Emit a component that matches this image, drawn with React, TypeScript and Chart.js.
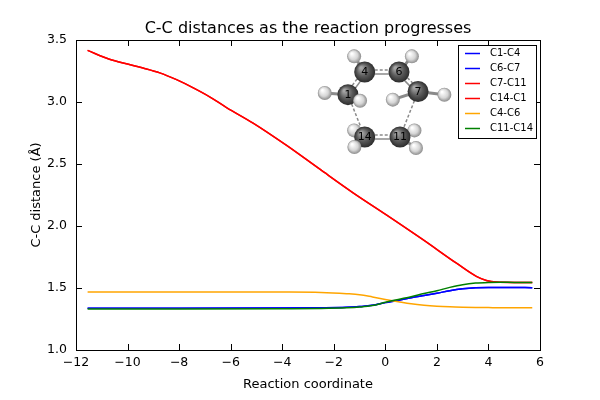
import { useEffect, useRef } from "react";
import { Chart, registerables } from "chart.js";

Chart.register(...registerables);

// C-C distances along the reaction coordinate
const longX = [-11.55, -10.7, -10.0, -9.4, -8.75, -8.1, -7.45, -6.8, -6.16, -5.13, -3.83, -2.54, -1.25, 0.04, 1.46, 2.76, 3.53, 3.92, 4.3, 5.0, 5.7];
const c7c11 = [3.416, 3.345, 3.306, 3.274, 3.235, 3.18, 3.114, 3.04, 2.955, 2.83, 2.65, 2.458, 2.268, 2.09, 1.89, 1.7, 1.594, 1.561, 1.548, 1.545, 1.545];
const c14c1 = [3.416, 3.345, 3.306, 3.274, 3.235, 3.18, 3.114, 3.04, 2.955, 2.83, 2.65, 2.458, 2.268, 2.09, 1.89, 1.7, 1.594, 1.561, 1.548, 1.545, 1.545];

const shortX = [-11.55, -8, -4, -2.5, -1.5, -1.0, -0.5, 0, 0.5, 1.0, 1.5, 2.0, 2.5, 3.0, 3.5, 4.0, 4.5, 5.0, 5.7];
const c1c4 = [1.337, 1.337, 1.338, 1.34, 1.344, 1.35, 1.36, 1.382, 1.4, 1.422, 1.44, 1.458, 1.478, 1.493, 1.502, 1.505, 1.505, 1.504, 1.503];
const c6c7 = [1.337, 1.337, 1.338, 1.34, 1.344, 1.35, 1.36, 1.382, 1.4, 1.422, 1.44, 1.458, 1.478, 1.493, 1.502, 1.505, 1.505, 1.504, 1.503];
const c4c6 = [1.468, 1.468, 1.467, 1.464, 1.454, 1.446, 1.428, 1.408, 1.39, 1.373, 1.361, 1.353, 1.348, 1.345, 1.343, 1.342, 1.341, 1.341, 1.34];
const c11c14 = [1.331, 1.331, 1.333, 1.335, 1.34, 1.346, 1.358, 1.385, 1.408, 1.43, 1.455, 1.478, 1.505, 1.527, 1.54, 1.545, 1.546, 1.545, 1.545];

const xTicks = [-12, -10, -8, -6, -4, -2, 0, 2, 4, 6];
const yTicks = [1.0, 1.5, 2.0, 2.5, 3.0, 3.5];

// molecule inset, atoms listed back to front (data coordinates)
const atomX = [-1.21, 1.13, -0.8, 0.57, -1.2, 1.19, -1.21, 1.03, -2.35, 2.29, -0.8, 0.53, -1.45, 1.27, -0.98, 0.29];
const atomY = [2.771, 2.771, 2.718, 2.718, 2.637, 2.629, 3.368, 3.368, 3.073, 3.059, 3.242, 3.242, 3.059, 3.085, 3.01, 3.019];
const atomTag = ["", "", "14", "11", "", "", "", "", "", "", "4", "6", "1", "7", "", ""];
const bondFrom = [2, 10, 12, 11, 12, 13, 2, 2, 3, 3, 10, 11, 12, 12, 13, 13];
const bondTo = [3, 11, 10, 13, 2, 3, 0, 4, 1, 5, 6, 7, 8, 14, 9, 15];
const bondKind = ["double", "double", "double", "double", "dashed", "dashed", "single", "single", "single", "single", "single", "single", "single", "single", "single", "single"];

const FONT = "DejaVu Sans";

const pts = (xs: number[], ys: number[]) => xs.map((x, i) => ({ x, y: ys[i] }));

const decor = {
  id: "decor",
  afterDraw(chart: any) {
    const { ctx, chartArea: area } = chart;
    const sx = chart.scales.x;
    const sy = chart.scales.y;

    ctx.save();

    // molecule bonds
    bondFrom.forEach((a, i) => {
      const b = bondTo[i];
      const x1 = sx.getPixelForValue(atomX[a]);
      const y1 = sy.getPixelForValue(atomY[a]);
      const x2 = sx.getPixelForValue(atomX[b]);
      const y2 = sy.getPixelForValue(atomY[b]);
      const len = Math.hypot(x2 - x1, y2 - y1) || 1;
      const nx = -(y2 - y1) / len;
      const ny = (x2 - x1) / len;
      ctx.strokeStyle = "#8a8a8a";
      if (bondKind[i] === "single") {
        ctx.lineWidth = 3;
        ctx.setLineDash([]);
        ctx.beginPath();
        ctx.moveTo(x1, y1);
        ctx.lineTo(x2, y2);
        ctx.stroke();
      } else if (bondKind[i] === "dashed") {
        ctx.lineWidth = 1.5;
        ctx.setLineDash([3, 2]);
        ctx.beginPath();
        ctx.moveTo(x1, y1);
        ctx.lineTo(x2, y2);
        ctx.stroke();
      } else {
        ctx.lineWidth = 1.5;
        ctx.setLineDash([]);
        ctx.beginPath();
        ctx.moveTo(x1 + nx * 2, y1 + ny * 2);
        ctx.lineTo(x2 + nx * 2, y2 + ny * 2);
        ctx.stroke();
        ctx.setLineDash([3, 2]);
        ctx.beginPath();
        ctx.moveTo(x1 - nx * 2, y1 - ny * 2);
        ctx.lineTo(x2 - nx * 2, y2 - ny * 2);
        ctx.stroke();
      }
    });
    ctx.setLineDash([]);

    // molecule atoms
    atomX.forEach((ax, i) => {
      const cx = sx.getPixelForValue(ax);
      const cy = sy.getPixelForValue(atomY[i]);
      const carbon = atomTag[i] !== "";
      const r = carbon ? 10.5 : 7;
      const g = ctx.createRadialGradient(cx - r * 0.35, cy - r * 0.4, r * 0.1, cx, cy, r);
      if (carbon) {
        g.addColorStop(0, "#a6a6a6");
        g.addColorStop(0.55, "#5a5a5a");
        g.addColorStop(1, "#2c2c2c");
      } else {
        g.addColorStop(0, "#ffffff");
        g.addColorStop(0.6, "#d6d6d6");
        g.addColorStop(1, "#8c8c8c");
      }
      ctx.fillStyle = g;
      ctx.beginPath();
      ctx.arc(cx, cy, r, 0, Math.PI * 2);
      ctx.fill();
      if (carbon) {
        ctx.fillStyle = "#000000";
        ctx.font = `11px ${FONT}`;
        ctx.textAlign = "center";
        ctx.textBaseline = "middle";
        ctx.fillText(atomTag[i], cx, cy + 0.5);
      }
    });

    // frame and inward ticks
    ctx.strokeStyle = "#000000";
    ctx.lineWidth = 1;
    ctx.strokeRect(area.left + 0.5, area.top + 0.5, area.right - area.left, area.bottom - area.top);
    ctx.beginPath();
    xTicks.forEach((v) => {
      const p = Math.round(sx.getPixelForValue(v)) + 0.5;
      ctx.moveTo(p, area.bottom);
      ctx.lineTo(p, area.bottom - 6);
      ctx.moveTo(p, area.top);
      ctx.lineTo(p, area.top + 6);
    });
    yTicks.forEach((v) => {
      const p = Math.round(sy.getPixelForValue(v)) + 0.5;
      ctx.moveTo(area.left, p);
      ctx.lineTo(area.left + 6, p);
      ctx.moveTo(area.right, p);
      ctx.lineTo(area.right - 6, p);
    });
    ctx.stroke();

    // legend box
    const lx = 458;
    const ly = 45;
    ctx.fillStyle = "#ffffff";
    ctx.fillRect(lx, ly, 78, 93);
    ctx.strokeRect(lx + 0.5, ly + 0.5, 78, 93);
    ctx.font = `10px ${FONT}`;
    ctx.textAlign = "left";
    ctx.textBaseline = "middle";
    chart.data.datasets.forEach((ds: any, i: number) => {
      const rowY = ly + 8.5 + i * 15;
      ctx.strokeStyle = ds.borderColor;
      ctx.lineWidth = 1.5;
      ctx.beginPath();
      ctx.moveTo(lx + 7, rowY);
      ctx.lineTo(lx + 22, rowY);
      ctx.stroke();
      ctx.fillStyle = "#000000";
      ctx.fillText(ds.label, lx + 32, rowY);
    });

    // titles
    ctx.fillStyle = "#000000";
    ctx.textAlign = "center";
    ctx.textBaseline = "alphabetic";
    const midX = (area.left + area.right) / 2;
    ctx.font = `16px ${FONT}`;
    ctx.fillText("C-C distances as the reaction progresses", midX, 33);
    ctx.font = `13px ${FONT}`;
    ctx.fillText("Reaction coordinate", midX, 388);
    ctx.translate(40, (area.top + area.bottom) / 2);
    ctx.rotate(-Math.PI / 2);
    ctx.fillText("C-C distance (Å)", 0, 0);

    ctx.restore();
  },
};

function DistanceChart() {
  const canvasRef = useRef<HTMLCanvasElement | null>(null);
  const chartRef = useRef<Chart | null>(null);

  useEffect(() => {
    const canvas = canvasRef.current;
    if (!canvas) return;

    chartRef.current?.destroy();

    const line = (label: string, color: string, data: { x: number; y: number }[], order: number) => ({
      label,
      data,
      borderColor: color,
      backgroundColor: color,
      borderWidth: 1.5,
      pointRadius: 0,
      cubicInterpolationMode: "monotone" as const,
      fill: false,
      order,
    });

    chartRef.current = new Chart(canvas, {
      type: "line",
      data: {
        datasets: [
          line("C1-C4", "#0000ff", pts(shortX, c1c4), 6),
          line("C6-C7", "#0000ff", pts(shortX, c6c7), 5),
          line("C7-C11", "#ff0000", pts(longX, c7c11), 4),
          line("C14-C1", "#ff0000", pts(longX, c14c1), 3),
          line("C4-C6", "#ffa500", pts(shortX, c4c6), 2),
          line("C11-C14", "#008000", pts(shortX, c11c14), 1),
        ],
      },
      plugins: [decor],
      options: {
        responsive: true,
        maintainAspectRatio: false,
        animation: false,
        layout: {
          padding: { top: 40, right: 60, left: 0, bottom: 0 },
        },
        plugins: {
          legend: { display: false },
          tooltip: { enabled: false },
        },
        scales: {
          x: {
            type: "linear",
            min: -12,
            max: 6,
            afterBuildTicks: (scale: any) => {
              scale.ticks = xTicks.map((value) => ({ value }));
            },
            afterFit: (scale: any) => {
              scale.height = 50;
            },
            grid: { display: false, drawTicks: false },
            border: { display: false },
            ticks: {
              color: "#000000",
              padding: 5,
              maxRotation: 0,
              font: { family: FONT, size: 12.5 },
              callback: (value: any) => (Number(value) < 0 ? `\u2212${Math.abs(Number(value))}` : `${value}`),
            },
          },
          y: {
            min: 1,
            max: 3.5,
            afterBuildTicks: (scale: any) => {
              scale.ticks = yTicks.map((value) => ({ value }));
            },
            afterFit: (scale: any) => {
              scale.width = 76;
            },
            grid: { display: false, drawTicks: false },
            border: { display: false },
            ticks: {
              color: "#000000",
              padding: 9,
              font: { family: FONT, size: 12.5 },
              callback: (value: any) => Number(value).toFixed(1),
            },
          },
        },
      },
    });

    return () => {
      chartRef.current?.destroy();
      chartRef.current = null;
    };
  }, []);

  return <canvas ref={canvasRef} />;
}

export default function App() {
  return (
    <div style={{ position: "fixed", left: 0, top: 0, width: 600, height: 400, background: "#ffffff" }}>
      <DistanceChart />
    </div>
  );
}
